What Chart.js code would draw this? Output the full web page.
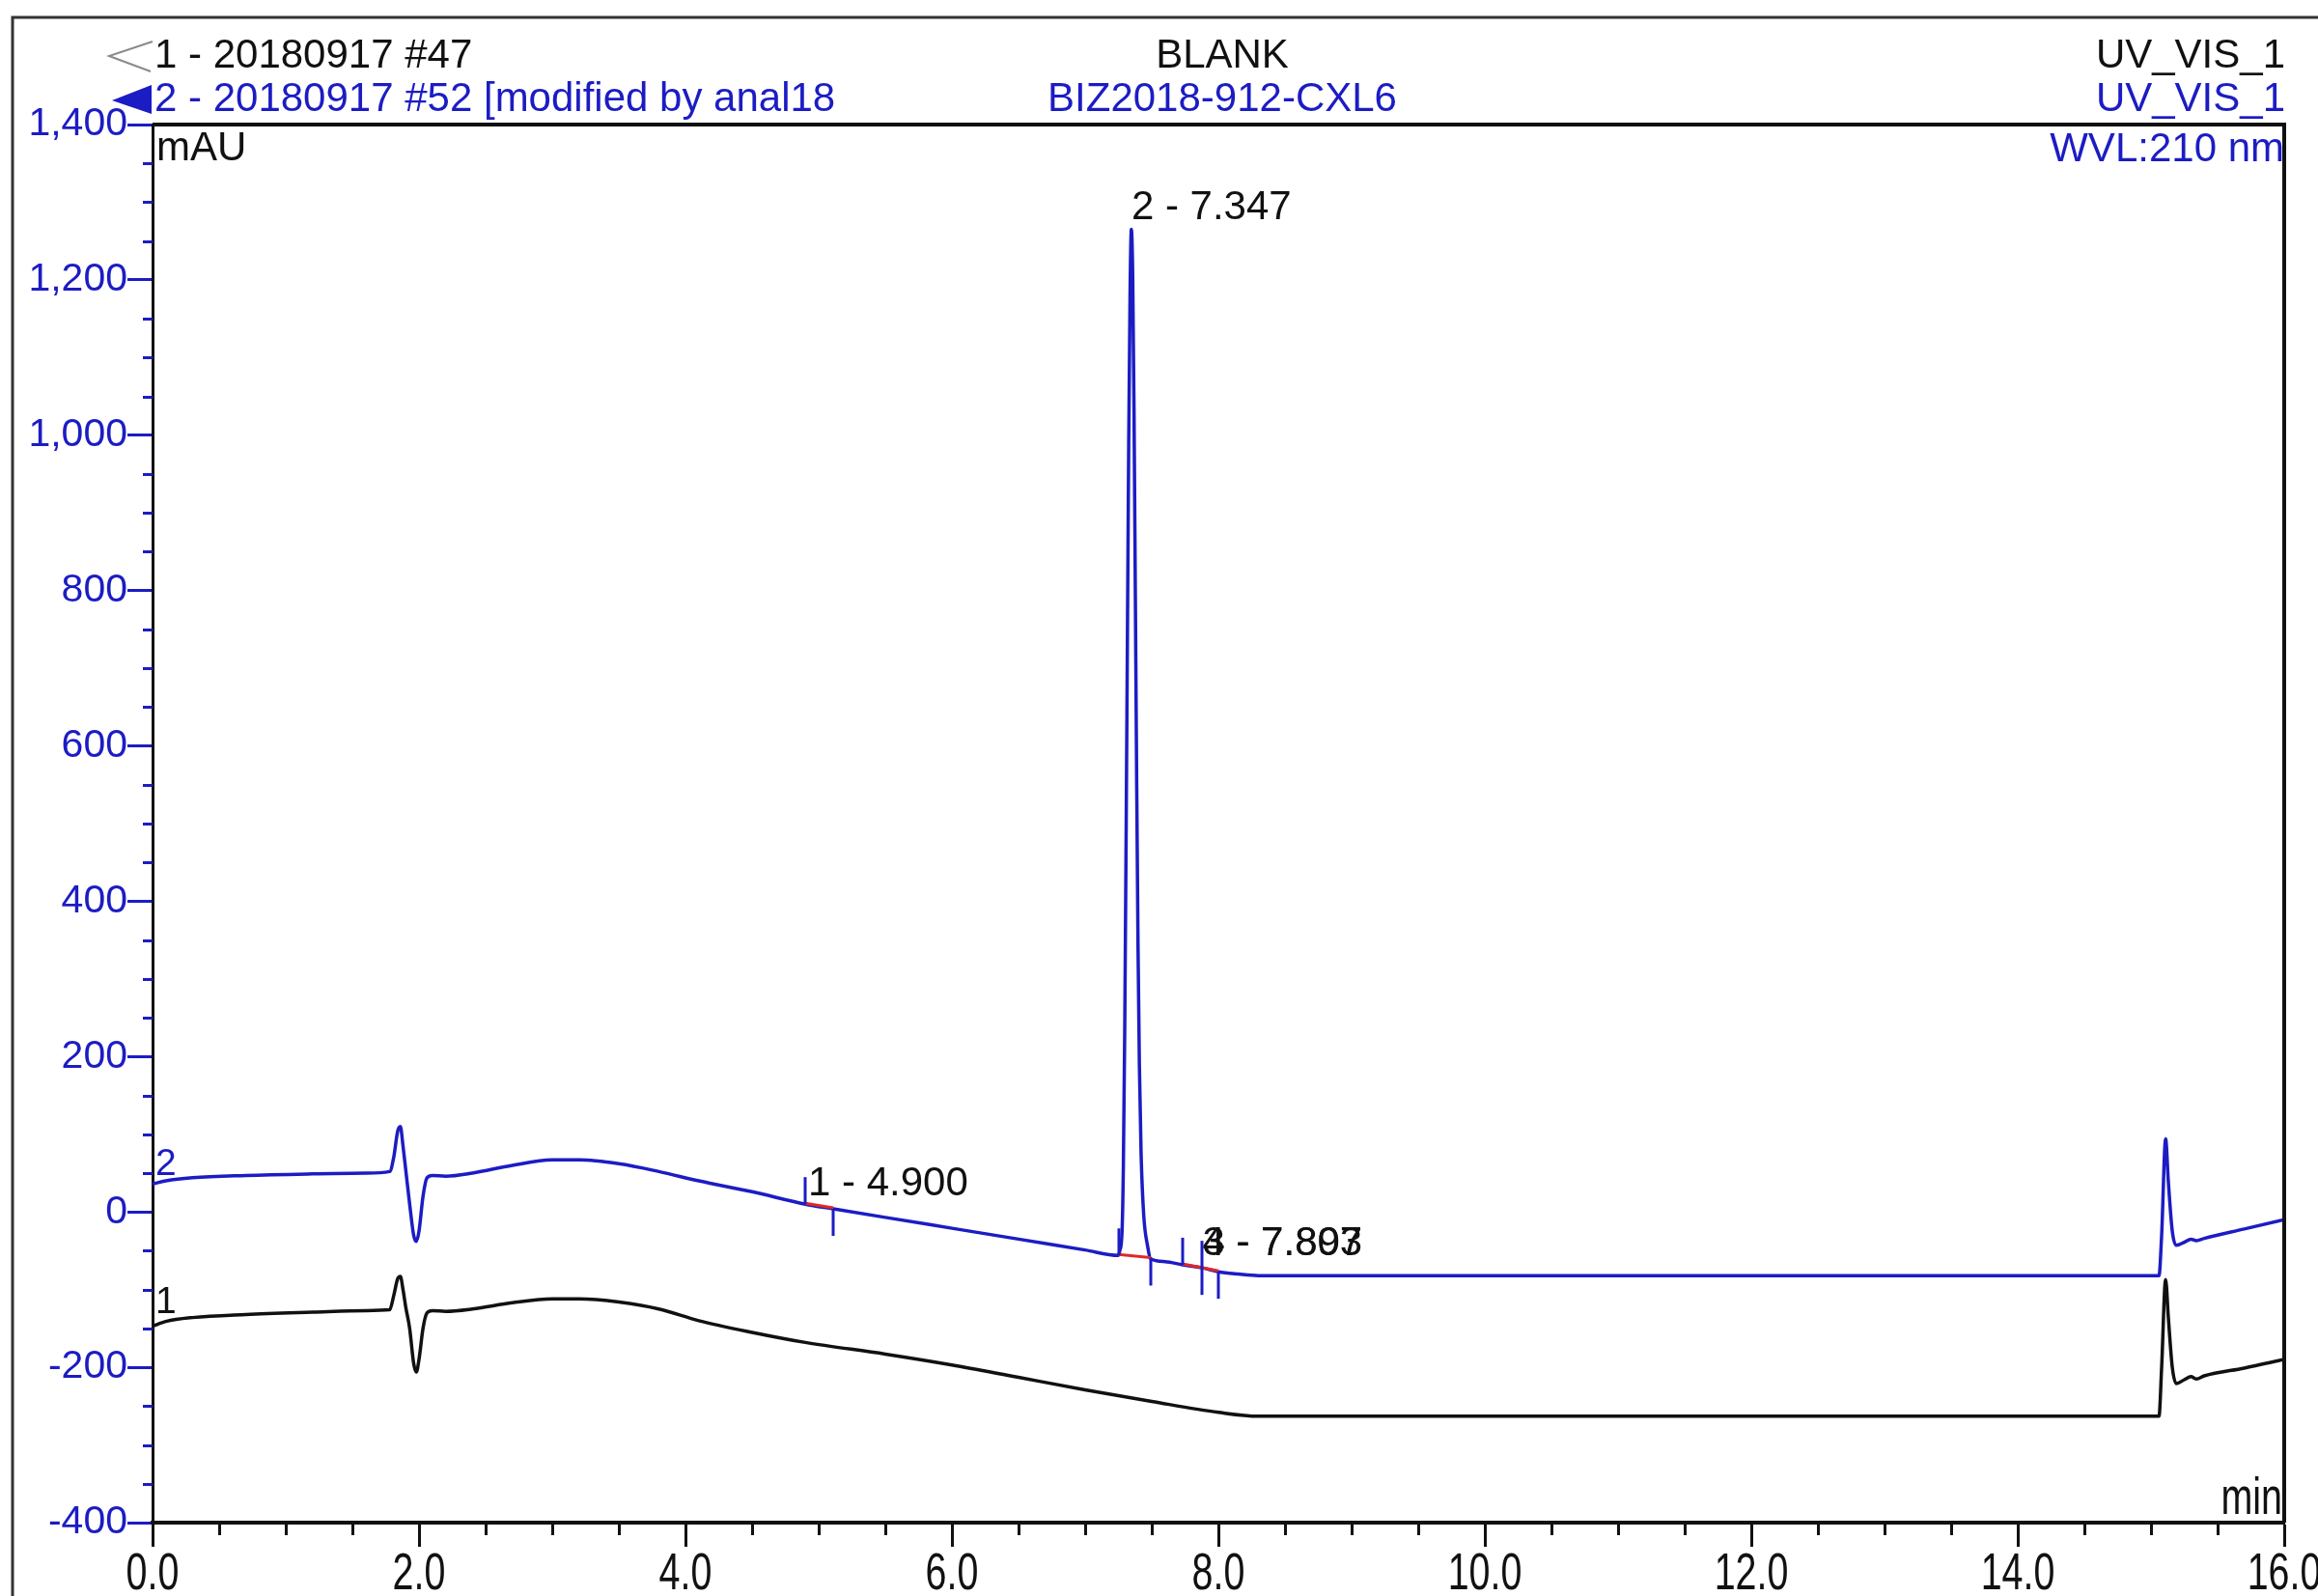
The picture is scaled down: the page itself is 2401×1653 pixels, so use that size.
<!DOCTYPE html>
<html>
<head>
<meta charset="utf-8">
<script src="https://cdn.jsdelivr.net/npm/chart.js@4.4.1/dist/chart.umd.min.js"></script>
<style>
    html, body { margin: 0; padding: 0; background: #fff; }
    #wrap { width: 2401px; height: 1653px; }
</style>
</head>
<body>
<div id="wrap"><canvas id="chromChart" width="2401" height="1653"></canvas></div>
<script>
// trace 1 - 20180917 #47 (black), retention time in min / signal in mAU
const trace1Time = [0.00, 0.10, 0.30, 0.70, 1.20, 1.60, 1.78, 1.81, 1.84, 1.86, 1.88, 1.90, 1.93, 1.96, 1.98, 2.00, 2.03, 2.06, 2.10, 2.20, 2.40, 2.70, 3.00, 3.20, 3.50, 3.80, 4.10, 4.50, 4.90, 5.50, 6.00, 6.50, 7.00, 7.50, 8.00, 8.30, 15.06, 15.08, 15.11, 15.13, 15.16, 15.19, 15.25, 15.30, 15.34, 15.40, 15.70, 16.00];
const trace1Value = [-147, -141, -136, -132, -129, -127, -126, -108, -86, -83, -100, -122, -150, -195, -206, -190, -150, -130, -127, -128, -125, -117, -112, -112, -116, -125, -140, -155, -168, -183, -197, -213, -229, -244, -258, -263, -263, -200, -87, -135, -200, -221, -216, -212, -215, -211, -201, -190];

// trace 2 - 20180917 #52 (blue)
const trace2Time = [0.00, 0.10, 0.30, 0.70, 1.20, 1.60, 1.78, 1.81, 1.84, 1.86, 1.88, 1.90, 1.93, 1.96, 1.98, 2.00, 2.03, 2.06, 2.10, 2.20, 2.40, 2.70, 3.00, 3.20, 3.50, 3.80, 4.10, 4.50, 4.90, 5.11, 5.50, 6.00, 6.50, 7.00, 7.25, 7.26, 7.277, 7.287, 7.297, 7.307, 7.317, 7.327, 7.337, 7.347, 7.357, 7.367, 7.377, 7.387, 7.397, 7.407, 7.42, 7.44, 7.47, 7.49, 7.60, 7.73, 7.88, 8.00, 8.15, 8.30, 15.06, 15.08, 15.11, 15.13, 15.16, 15.19, 15.25, 15.30, 15.34, 15.40, 15.70, 16.00];
const trace2Value = [36, 40, 44, 47, 49, 50, 52, 70, 104, 110, 85, 55, 10, -30, -38, -25, 20, 44, 47, 46, 50, 60, 67, 67, 62, 52, 40, 26, 10, 4, -7, -21, -35, -49, -56, -50, -25, 60, 230, 470, 730, 990, 1180, 1265, 1205, 1030, 790, 550, 340, 190, 75, -5, -45, -60, -64, -68, -72, -77, -80, -82, -82, -30, 94, 40, -25, -43, -39, -35, -37, -34, -22, -10];

// integration: peak labels and delimiters on trace 2
const peakLabels = ['1 - 4.900', '2 - 7.347', '3 - 7.807', '4 - 7.893'];
const peakLabelTime = [4.92, 7.347, 7.88, 7.88];
const peakLabelValue = [22, 1278, -56, -56];
const markTime = [4.90, 5.11, 7.25, 7.49, 7.73, 7.88, 7.88, 8.00];
const markValue = [10, 4, -56, -60, -68, -72, -72, -77];
const markDir = [1, -1, 1, -1, 1, 1, -1, -1];
const baseStart = [0, 2, 4];
const baseEnd = [1, 3, 7];

const headerLeft = ['1 - 20180917 #47', '2 - 20180917 #52 [modified by anal18'];
const headerCenter = ['BLANK', 'BIZ2018-912-CXL6'];
const headerRight = ['UV_VIS_1', 'UV_VIS_1'];

const BLUE = '#1c1cc4';
const BLACK = '#111111';
const FONT = '"Liberation Sans", Arial, sans-serif';
const SQUEEZE = 0.73; // the time axis uses a condensed face

function toPoints(times, values) {
    return times.map((t, i) => ({ x: t, y: values[i] }));
}

function narrowText(ctx, txt, x, y, align) {
    ctx.save();
    ctx.translate(x, y);
    ctx.scale(SQUEEZE, 1);
    ctx.textAlign = align;
    ctx.fillText(txt, 0, 0);
    ctx.restore();
}

const decor = {
    id: 'decor',
    afterDatasetsDraw(chart) {
        const ctx = chart.ctx;
        const xs = chart.scales.x, ys = chart.scales.y;
        ctx.save();
        // red baselines under integrated peaks
        ctx.strokeStyle = '#e02828';
        ctx.lineWidth = 3;
        for (let i = 0; i < baseStart.length; i++) {
            const a = baseStart[i], b = baseEnd[i];
            ctx.beginPath();
            ctx.moveTo(xs.getPixelForValue(markTime[a]), ys.getPixelForValue(markValue[a]) - 1);
            ctx.lineTo(xs.getPixelForValue(markTime[b]), ys.getPixelForValue(markValue[b]) - 1);
            ctx.stroke();
        }
        // peak delimiters
        ctx.strokeStyle = BLUE;
        ctx.lineWidth = 3;
        markTime.forEach((t, i) => {
            const px = Math.round(xs.getPixelForValue(t));
            const py = ys.getPixelForValue(markValue[i]);
            ctx.beginPath();
            ctx.moveTo(px, py);
            ctx.lineTo(px, py - markDir[i] * 28);
            ctx.stroke();
        });
        // peak labels
        ctx.fillStyle = BLACK;
        ctx.font = '42px ' + FONT;
        ctx.textAlign = 'left';
        ctx.textBaseline = 'alphabetic';
        peakLabels.forEach((txt, i) => {
            ctx.fillText(txt, xs.getPixelForValue(peakLabelTime[i]), ys.getPixelForValue(peakLabelValue[i]));
        });
        ctx.restore();
    },
    afterDraw(chart) {
        const ctx = chart.ctx;
        const xs = chart.scales.x, ys = chart.scales.y;
        const area = chart.chartArea;
        ctx.save();

        // outer frame
        ctx.strokeStyle = '#333';
        ctx.lineWidth = 3;
        ctx.beginPath();
        ctx.moveTo(13, 1653);
        ctx.lineTo(13, 18);
        ctx.lineTo(2401, 18);
        ctx.stroke();

        // top and right border of the plot
        ctx.strokeStyle = BLACK;
        ctx.lineWidth = 4;
        ctx.beginPath();
        ctx.moveTo(area.left, area.top);
        ctx.lineTo(area.right, area.top);
        ctx.lineTo(area.right, area.bottom);
        ctx.stroke();

        // minor ticks
        ctx.lineWidth = 3;
        ctx.strokeStyle = BLUE;
        for (let v = -400; v <= 1400; v += 50) {
            if (v % 200 === 0) continue;
            const py = Math.round(ys.getPixelForValue(v)) + 0.5;
            ctx.beginPath();
            ctx.moveTo(area.left - 10, py);
            ctx.lineTo(area.left, py);
            ctx.stroke();
        }
        ctx.strokeStyle = BLACK;
        for (let t = 0.5; t < 16; t += 0.5) {
            if (t % 2 === 0) continue;
            const px = Math.round(xs.getPixelForValue(t)) + 0.5;
            ctx.beginPath();
            ctx.moveTo(px, area.bottom);
            ctx.lineTo(px, area.bottom + 13);
            ctx.stroke();
        }

        // time axis labels, condensed like the original
        ctx.fillStyle = BLACK;
        ctx.font = '54px ' + FONT;
        ctx.textBaseline = 'alphabetic';
        xs.ticks.forEach((tk) => {
            narrowText(ctx, tk.value.toFixed(1), xs.getPixelForValue(tk.value), 1646, 'center');
        });
        narrowText(ctx, 'min', area.right - 2, 1568, 'right');

        // header
        ctx.font = '42px ' + FONT;
        ctx.textBaseline = 'middle';
        const rowY = [58, 103];
        const rowColor = [BLACK, BLUE];
        for (let r = 0; r < 2; r++) {
            ctx.fillStyle = rowColor[r];
            ctx.textAlign = 'left';
            ctx.fillText(headerLeft[r], 160, rowY[r]);
            ctx.textAlign = 'center';
            ctx.fillText(headerCenter[r], 1266, rowY[r]);
            ctx.textAlign = 'right';
            ctx.fillText(headerRight[r], 2367, rowY[r]);
        }
        // open chevron for trace 1, filled arrow for trace 2
        ctx.strokeStyle = '#8a8a8a';
        ctx.lineWidth = 2;
        ctx.beginPath();
        ctx.moveTo(158, 43);
        ctx.lineTo(113, 58);
        ctx.lineTo(156, 74);
        ctx.stroke();
        ctx.fillStyle = BLUE;
        ctx.beginPath();
        ctx.moveTo(116, 104);
        ctx.lineTo(157, 88);
        ctx.lineTo(157, 118);
        ctx.closePath();
        ctx.fill();

        // units and channel info
        ctx.fillStyle = BLACK;
        ctx.textAlign = 'left';
        ctx.fillText('mAU', area.left + 4, area.top + 25);
        ctx.fillStyle = BLUE;
        ctx.textAlign = 'right';
        ctx.fillText('WVL:210 nm', area.right, area.top + 26);

        // trace numbers
        ctx.font = '39px ' + FONT;
        ctx.textAlign = 'left';
        ctx.fillStyle = BLUE;
        ctx.fillText('2', area.left + 3, ys.getPixelForValue(trace2Value[0]) - 20);
        ctx.fillStyle = BLACK;
        ctx.fillText('1', area.left + 3, ys.getPixelForValue(trace1Value[0]) - 24);

        ctx.restore();
    }
};

new Chart(document.getElementById('chromChart'), {
    type: 'line',
    data: {
        datasets: [
            {
                label: '2 - 20180917 #52',
                data: toPoints(trace2Time, trace2Value),
                borderColor: BLUE,
                borderWidth: 3.5,
                pointRadius: 0,
                cubicInterpolationMode: 'monotone',
                fill: false
            },
            {
                label: '1 - 20180917 #47',
                data: toPoints(trace1Time, trace1Value),
                borderColor: BLACK,
                borderWidth: 3.5,
                pointRadius: 0,
                cubicInterpolationMode: 'monotone',
                fill: false
            }
        ]
    },
    options: {
        responsive: false,
        animation: false,
        devicePixelRatio: 1,
        layout: { padding: { left: 0, top: 129, right: 35, bottom: 0 } },
        plugins: { legend: { display: false }, tooltip: { enabled: false } },
        scales: {
            x: {
                type: 'linear',
                min: 0,
                max: 16,
                afterFit: (s) => { s.height = 76; s.paddingLeft = 0; s.paddingRight = 0; },
                ticks: {
                    stepSize: 2,
                    autoSkip: false,
                    maxRotation: 0,
                    padding: 2,
                    color: 'rgba(0,0,0,0)',
                    font: { family: FONT, size: 40 },
                    callback: (v) => v.toFixed(1)
                },
                grid: { drawOnChartArea: false, drawTicks: true, tickLength: 25, tickWidth: 3, tickColor: BLACK },
                border: { display: true, color: BLACK, width: 4 }
            },
            y: {
                min: -400,
                max: 1400,
                afterFit: (s) => { s.width = 158; },
                ticks: {
                    stepSize: 200,
                    padding: 0,
                    color: BLUE,
                    font: { family: FONT, size: 41 },
                    callback: (v) => v.toLocaleString('en-US')
                },
                grid: { drawOnChartArea: false, drawTicks: true, tickLength: 26, tickWidth: 3, tickColor: BLUE },
                border: { display: true, color: BLACK, width: 3 }
            }
        }
    },
    plugins: [decor]
});
</script>
</body>
</html>
